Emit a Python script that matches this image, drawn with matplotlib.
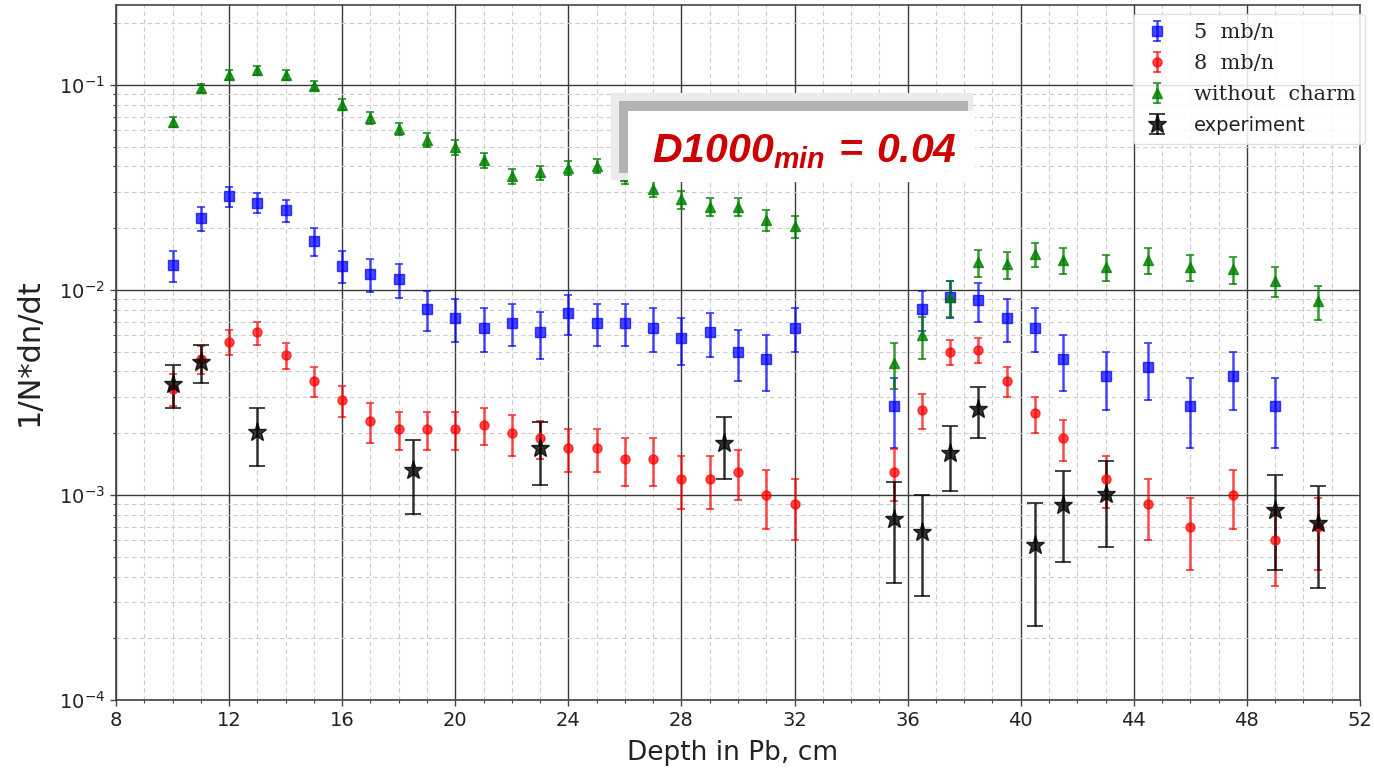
import matplotlib
matplotlib.use("Agg")
import matplotlib.pyplot as plt
from matplotlib.ticker import MultipleLocator, LogLocator, NullFormatter, FixedLocator
from matplotlib.patches import Rectangle

# ---------------- data ----------------
depth_left = [10, 11, 12, 13, 14, 15, 16, 17, 18, 19, 20, 21, 22, 23, 24, 25,
              26, 27, 28, 29, 30, 31, 32]
depth_right = [35.5, 36.5, 37.5, 38.5, 39.5, 40.5, 41.5, 43.0, 44.5, 46.0,
               47.5, 49.0, 50.5]

blue_x = depth_left + depth_right[:-1]
blue_y = [0.0132, 0.0224, 0.0286, 0.0266, 0.0244, 0.0173, 0.0131, 0.0120,
          0.01125, 0.0081, 0.0073, 0.00655, 0.0069, 0.0062, 0.0077, 0.0069,
          0.0069, 0.00655, 0.0058, 0.0062, 0.0050, 0.0046, 0.00655,
          0.0027, 0.0081, 0.0092, 0.0089, 0.0073, 0.00655, 0.0046, 0.0038,
          0.0042, 0.0027, 0.0038, 0.0027]
blue_err = [0.0023, 0.0030, 0.0032, 0.0030, 0.0030, 0.0027, 0.0023, 0.0022,
            0.0021, 0.0018, 0.0017, 0.0016, 0.0016, 0.0016, 0.0017, 0.0016,
            0.0016, 0.0016, 0.0015, 0.0015, 0.0014, 0.0014, 0.0016,
            0.0010, 0.0018, 0.0019, 0.0019, 0.0017, 0.0016, 0.0014, 0.0012,
            0.0013, 0.0010, 0.0012, 0.0010]

red_x = depth_left + depth_right
red_y = [0.0033, 0.0046, 0.0056, 0.0062, 0.0048, 0.0036, 0.0029, 0.0023,
         0.0021, 0.0021, 0.0021, 0.0022, 0.0020, 0.0019, 0.0017, 0.0017,
         0.0015, 0.0015, 0.0012, 0.0012, 0.0013, 0.0010, 0.0009,
         0.0013, 0.0026, 0.0050, 0.0051, 0.0036, 0.0025, 0.0019, 0.0012,
         0.0009, 0.0007, 0.0010, 0.0006, 0.0007]
red_err = [0.0006, 0.0007, 0.0008, 0.0008, 0.0007, 0.0006, 0.0005, 0.0005,
           0.00045, 0.00045, 0.00045, 0.00045, 0.00045, 0.0004, 0.0004, 0.0004,
           0.0004, 0.0004, 0.00035, 0.00035, 0.00036, 0.00032, 0.0003,
           0.00037, 0.0005, 0.0007, 0.0007, 0.0006, 0.0005, 0.00043, 0.00034,
           0.0003, 0.00027, 0.00032, 0.00024, 0.00027]

green_x = depth_left + depth_right
green_y = [0.066, 0.096, 0.112, 0.118, 0.112, 0.099, 0.080, 0.069, 0.061,
           0.054, 0.0497, 0.0428, 0.0358, 0.0374, 0.0394, 0.0404, 0.0358,
           0.0312, 0.0276, 0.0254, 0.0254, 0.0219, 0.0204,
           0.0044, 0.0060, 0.0092, 0.0136, 0.0133, 0.0149, 0.0140, 0.0129,
           0.0140, 0.0129, 0.0126, 0.0111, 0.0088]
green_err = [0.004, 0.005, 0.006, 0.006, 0.006, 0.005, 0.005, 0.0045, 0.004,
             0.004, 0.004, 0.0035, 0.003, 0.003, 0.0032, 0.0032, 0.003,
             0.0028, 0.0028, 0.0026, 0.0026, 0.0025, 0.0025,
             0.0011, 0.0014, 0.0018, 0.0020, 0.0020, 0.0020, 0.0020, 0.0019,
             0.0020, 0.0019, 0.0019, 0.0019, 0.0017]

exp_x = [10, 11, 13, 18.5, 23, 29.5, 35.5, 36.5, 37.5, 38.5, 40.5, 41.5, 43,
         49, 50.5]
exp_y = [0.00347, 0.00446, 0.00202, 0.00133, 0.0017, 0.0018, 0.00076,
         0.00066, 0.0016, 0.00262, 0.00057, 0.00089, 0.00101, 0.00084, 0.00073]
exp_err = [0.00083, 0.00095, 0.00064, 0.00052, 0.00058, 0.0006, 0.00039,
           0.00034, 0.00056, 0.00073, 0.00034, 0.00042, 0.00045, 0.00041,
           0.00038]

labels = ["5  mb/n", "8  mb/n", "without  charm", "experiment"]
x_major_ticks = [8, 12, 16, 20, 24, 28, 32, 36, 40, 44, 48, 52]
annotation = r"$D1000_{min}\,=\,0.04$"

# ---------------- style ----------------
plt.rcParams["font.family"] = ["DejaVu Sans"]
plt.rcParams["mathtext.fontset"] = "dejavusans"
plt.rcParams["mathtext.rm"] = "Liberation Sans:bold:italic"
plt.rcParams["mathtext.it"] = "Liberation Sans:bold:italic"
plt.rcParams["mathtext.bf"] = "Liberation Sans:bold:italic"
plt.rcParams["mathtext.sf"] = "Liberation Sans:bold:italic"

W, H = 1374, 775
fig = plt.figure(figsize=(W / 100, H / 100), dpi=100)
ax = fig.add_axes([116 / W, 1 - 700 / H, (1360 - 116) / W, (700 - 5) / H])

ekw = dict(linestyle="none", elinewidth=1.8, capthick=1.3, capsize=3)
ax.errorbar(blue_x, blue_y, yerr=blue_err, fmt="s", color="blue", alpha=0.72,
            markersize=6.5, label=labels[0], **ekw)
ax.errorbar(red_x, red_y, yerr=red_err, fmt="o", color="red", alpha=0.72,
            markersize=6.5, label=labels[1], **ekw)
ax.errorbar(green_x, green_y, yerr=green_err, fmt="^", color="green",
            alpha=0.8, markersize=6.5, label=labels[2], **ekw)
ax.errorbar(exp_x, exp_y, yerr=exp_err, fmt="*", color="black", alpha=0.8,
            markersize=14, linestyle="none", elinewidth=1.8, capthick=1.3,
            capsize=6, label=labels[3])

ax.set_yscale("log")
ax.set_xlim(8, 52)
ax.set_ylim(1e-4, 0.245)
ax.xaxis.set_major_locator(FixedLocator(x_major_ticks))
ax.xaxis.set_minor_locator(MultipleLocator(1))
ax.yaxis.set_major_locator(LogLocator(base=10, numticks=10))
ax.yaxis.set_minor_locator(LogLocator(base=10, subs=range(2, 10), numticks=20))
ax.yaxis.set_minor_formatter(NullFormatter())

ax.grid(which="major", color="#3a3a3a", linewidth=1.0, linestyle="-")
ax.grid(which="minor", color="#cccccc", linewidth=0.8, linestyle=(0, (4, 3)))
ax.set_axisbelow(True)

for s in ax.spines.values():
    s.set_color("#444444")
    s.set_linewidth(1.2)
ax.tick_params(which="major", length=4, width=1, color="#444444",
               labelsize=14, labelcolor="#222222", pad=4)
ax.tick_params(which="minor", length=2.5, width=0.8, color="#444444")

ax.set_ylabel("1/N*dn/dt", fontsize=22, color="#222222")
ax.yaxis.set_label_coords(-0.058, 0.5)
ax.set_xlabel("Depth in Pb, cm", fontsize=19, color="#222222")
ax.xaxis.set_label_coords(0.496, -0.058)

leg = ax.legend(loc="upper right", bbox_to_anchor=(1.004, 0.987),
                borderaxespad=0, fontsize=14, framealpha=0.85,
                edgecolor="#dddddd", handlelength=1.6, handletextpad=1.1,
                labelspacing=0.62, borderpad=0.45)
for t in leg.get_texts()[:3]:
    t.set_fontfamily("DejaVu Serif")
    t.set_fontsize(15)
for t in leg.get_texts():
    t.set_color("#222222")

# ---------------- annotation box ----------------
def px_rect(x0, y0, x1, y1, color, z):
    fig.add_artist(Rectangle((x0 / W, 1 - y1 / H), (x1 - x0) / W, (y1 - y0) / H,
                             transform=fig.transFigure, facecolor=color,
                             edgecolor="none", zorder=z))

px_rect(611, 93, 973, 180, "#ebebeb", 5)
px_rect(619, 101, 968, 173, "#b3b3b3", 6)
px_rect(628, 111, 975, 182, "white", 7)
fig.text(652 / W, 1 - 162 / H, annotation, fontsize=29.5, color="#cc0000",
         math_fontfamily="custom", ha="left", va="baseline", zorder=8)

fig.savefig("out.png", dpi=100)
